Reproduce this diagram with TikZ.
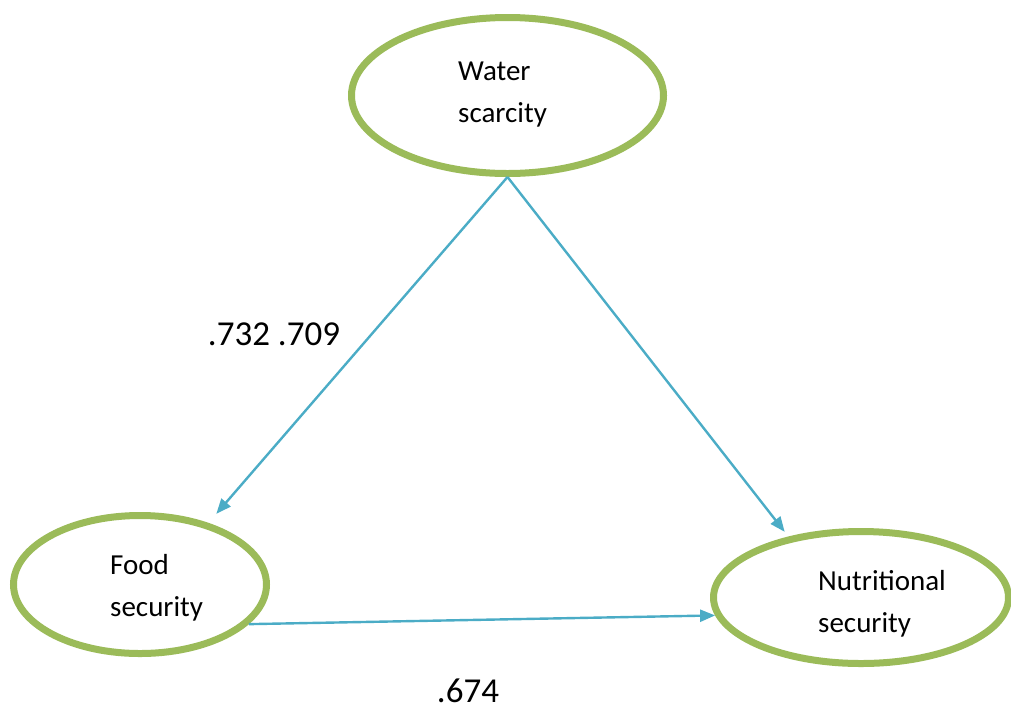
\documentclass[tikz,border=0pt]{standalone}
\usepackage{fontspec}
\setmainfont{Carlito}
\usetikzlibrary{arrows.meta,shapes.geometric}
\definecolor{ovalgreen}{HTML}{9BBB59}
\definecolor{linkblue}{HTML}{4BACC6}

\begin{document}
\begin{tikzpicture}[x=1pt,y=-1pt,
  oval/.style={draw=ovalgreen, line width=7pt, ellipse, inner sep=0pt},
  lbl/.style={align=left, font=\fontsize{29}{42}\selectfont, inner sep=0pt, anchor=base west},
  link/.style={draw=linkblue, line width=2.4pt, -{Triangle[length=15pt,width=12pt]}},
  coef/.style={font=\fontsize{35}{40}\selectfont, inner sep=0pt, anchor=base}]
\useasboundingbox (0,0) rectangle (1011,713);
% the three constructs
\node[oval, minimum width=312pt, minimum height=156pt] (water) at (507.5,95.5) {};
\node[oval, minimum width=253pt, minimum height=138pt] (food) at (140,584.5) {};
\node[oval, minimum width=295pt, minimum height=132pt] (nutri) at (861,597.5) {};
\node[lbl] (watertext) at (458,122) {Water\\scarcity};
\node[lbl] (foodtext) at (110,616) {Food\\security};
\node[lbl] (nutritext) at (818,632) {Nutritional\\security};
% paths
\draw[link, shorten >=12pt] (water.south) -- (food.42);
\draw[link, shorten >=6pt] (water.south) -- (nutri.140);
\draw[link] (food.-20) -- (nutri.187);
% path coefficients
\node[coef] (wfcoef) at (274,345) {.732 .709};
\node[coef] (fncoef) at (468,702) {.674};
\end{tikzpicture}
\end{document}
